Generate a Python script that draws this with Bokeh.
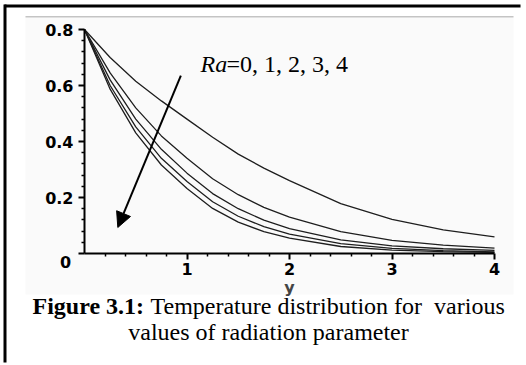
from bokeh.plotting import figure
from bokeh.models import FixedTicker, Label, Arrow, NormalHead, LinearAxis
from bokeh.embed import file_html
from bokeh.resources import INLINE

# ---- data ----
y_coord = [0.0, 0.25, 0.5, 0.75, 1.0, 1.25, 1.5, 1.75, 2.0, 2.5, 3.0, 3.5, 4.0]
theta_ra0 = [0.8, 0.700, 0.615, 0.545, 0.480, 0.415, 0.355, 0.305, 0.260, 0.178, 0.122, 0.084, 0.059]
theta_ra1 = [0.8, 0.645, 0.520, 0.420, 0.340, 0.267, 0.210, 0.165, 0.130, 0.078, 0.047, 0.030, 0.019]
theta_ra2 = [0.8, 0.620, 0.480, 0.372, 0.287, 0.214, 0.160, 0.119, 0.089, 0.049, 0.027, 0.017, 0.011]
theta_ra3 = [0.8, 0.600, 0.452, 0.340, 0.257, 0.185, 0.133, 0.096, 0.069, 0.035, 0.018, 0.010, 0.006]
theta_ra4 = [0.8, 0.587, 0.431, 0.316, 0.232, 0.161, 0.112, 0.078, 0.055, 0.025, 0.012, 0.007, 0.004]
curves = [theta_ra0, theta_ra1, theta_ra2, theta_ra3, theta_ra4]

x_ticks = [1, 2, 3, 4]
x_minor = [0.2, 0.4, 0.6, 0.8, 1.2, 1.4, 1.6, 1.8, 2.2, 2.4, 2.6, 2.8, 3.2, 3.4, 3.6, 3.8]
y_ticks = [0.0, 0.2, 0.4, 0.6, 0.8]
y_minor = [0.04, 0.08, 0.12, 0.16, 0.24, 0.28, 0.32, 0.36, 0.44, 0.48, 0.52, 0.56, 0.64, 0.68, 0.72, 0.76]

annotation_text = "=0, 1, 2, 3, 4"
caption_bold = "Figure 3.1:"
caption_line1 = "Temperature distribution for\u00a0 various"
caption_line2 = "values of radiation parameter"

# ---- geometry: frame covers the whole canvas; data box sits at px 84..494, 29..253 ----
W, H = 526, 365
PX_L, PX_R, PX_T, PX_B = 84, 494, 29, 253
X0, X1, Y0, Y1 = 0.0, 4.0, 0.0, 0.8
sx = (PX_R - PX_L) / (X1 - X0)
sy = (PX_B - PX_T) / (Y1 - Y0)
x_range = (X0 - PX_L / sx, X1 + (W - PX_R) / sx)
y_range = (Y0 - (H - PX_B) / sy, Y1 + PX_T / sy)


def fx(px):
    return X0 + (px - PX_L) / sx


def fy(py):
    return Y0 + (PX_B - py) / sy


p = figure(width=W, height=H, x_range=x_range, y_range=y_range,
           output_backend="svg", toolbar_location=None, min_border=0,
           x_axis_type=None, y_axis_type=None)
p.grid.visible = False
p.outline_line_color = None
p.background_fill_color = "white"
p.border_fill_color = "white"

# page decorations (frame of the scanned figure), placed by pixel geometry
deco = [  # (left, right, top, bottom, colour) in canvas pixels
    (25, 513, 17, 294, "#fafafa"),
    (25, 513, 15.5, 17, "#c4c4c4"),
    (4, 520, 4, 7, "black"),
    (3, 6, 4, 362, "black"),
]
for l, r, t, b, col in deco:
    p.quad(left=[fx(l)], right=[fx(r)], top=[fy(t)], bottom=[fy(b)],
           fill_color=col, line_color=None)

xaxis = LinearAxis(fixed_location=0, bounds=(X0, X1),
                   ticker=FixedTicker(ticks=x_ticks, minor_ticks=x_minor))
yaxis = LinearAxis(fixed_location=0, bounds=(Y0, Y1),
                   ticker=FixedTicker(ticks=y_ticks, minor_ticks=y_minor))
for ax in (xaxis, yaxis):
    ax.axis_line_width = 2
    ax.axis_line_color = "black"
    ax.major_tick_in = 0
    ax.major_tick_out = 6
    ax.minor_tick_in = 0
    ax.minor_tick_out = 3
    ax.major_tick_line_width = 2
    ax.minor_tick_line_width = 1.5
    ax.major_label_text_font = "DejaVu Sans"
    ax.major_label_text_font_style = "bold"
    ax.major_label_text_font_size = "16px"
    ax.major_label_text_color = "black"
yaxis.major_label_overrides = {0: ""}
yaxis.major_label_standoff = 5
xaxis.major_label_standoff = 3
xaxis.axis_label = "y"
xaxis.axis_label_text_font = "DejaVu Sans"
xaxis.axis_label_text_font_style = "bold"
xaxis.axis_label_text_font_size = "16px"
xaxis.axis_label_standoff = 0
p.add_layout(xaxis, "below")
p.add_layout(yaxis, "left")

for c in curves:
    p.line(y_coord, c, line_color="#1e1e1e", line_width=1.3)

p.add_layout(Arrow(end=NormalHead(size=15, fill_color="black", line_color="black"),
                   x_start=0.94, y_start=0.635, x_end=0.325, y_end=0.093,
                   line_width=2, line_color="black"))

p.add_layout(Label(x=200, y=63, x_units="canvas", y_units="canvas", text="Ra",
                   text_font="Liberation Serif", text_font_style="italic",
                   text_font_size="24px", text_baseline="alphabetic", text_color="black"))
p.add_layout(Label(x=226, y=63, x_units="canvas", y_units="canvas", text=annotation_text,
                   text_font="Liberation Serif", text_font_size="24px",
                   text_baseline="alphabetic", text_color="black"))

p.add_layout(Label(x=65, y=261, x_units="canvas", y_units="canvas", text="0",
                   text_font="DejaVu Sans", text_font_style="bold", text_font_size="16px",
                   text_align="center", text_baseline="middle", text_color="black"))

p.add_layout(Label(x=32, y=305, x_units="canvas", y_units="canvas", text=caption_bold,
                   text_font="Liberation Serif", text_font_style="bold", text_font_size="24px",
                   text_baseline="alphabetic", text_color="black"))
p.add_layout(Label(x=150, y=305, x_units="canvas", y_units="canvas", text=caption_line1,
                   text_font="Liberation Serif", text_font_size="24px",
                   text_baseline="alphabetic", text_color="black"))
p.add_layout(Label(x=268, y=331, x_units="canvas", y_units="canvas", text=caption_line2,
                   text_font="Liberation Serif", text_font_size="24px", text_align="center",
                   text_baseline="alphabetic", text_color="black"))

open("out.html", "w").write(file_html(p, INLINE))
